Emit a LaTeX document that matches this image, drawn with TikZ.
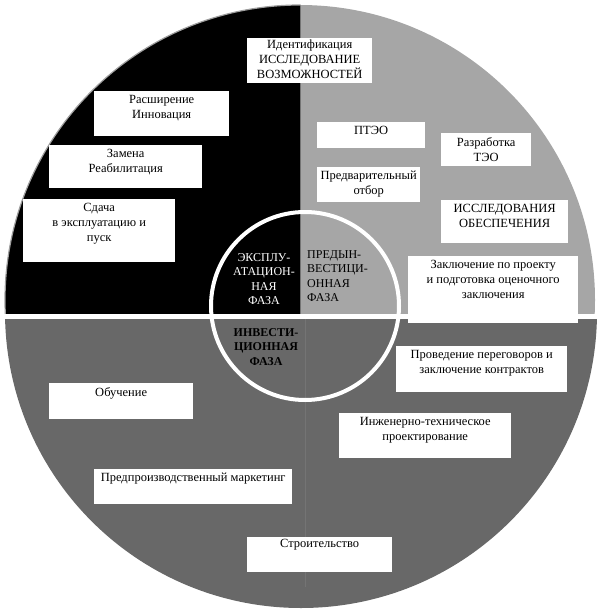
\documentclass[tikz,border=0pt]{standalone}
\usepackage{fontspec}
\setmainfont{Liberation Serif}
\definecolor{lightgrey}{HTML}{A6A6A6}
\definecolor{darkgrey}{HTML}{686868}
\definecolor{rimgrey}{HTML}{9E9E9E}
\definecolor{seamgrey}{HTML}{747474}
\begin{document}
\begin{tikzpicture}[x=1pt,y=-1pt,
	box/.style={fill=white, anchor=north west, inner sep=0pt},
	txt/.style={anchor=north, inner sep=4pt, align=center, font=\fontsize{12.5}{15}\selectfont},
	phase/.style={inner sep=0pt, font=\fontsize{12}{14.5}\selectfont}]
		\useasboundingbox (0,0) rectangle (601,610);
		% bottom half
		\begin{scope}
		\clip (0,319) rectangle (601,610);
		\fill[darkgrey] (301,312) circle (296);
		\end{scope}
		\draw[seamgrey,line width=0.8] (305,319) -- (305,587);
		% top left quarter
		\begin{scope}
		\clip (0,0) rectangle (300.5,313);
		\fill[black,draw=rimgrey,line width=1.2] (300,300) circle (295);
		\end{scope}
		% top right quarter
		\begin{scope}
		\clip (300.5,0) rectangle (601,313);
		\fill[lightgrey] (300,300) circle (295);
		\end{scope}
		% inner ring
		\draw[white,line width=4] (305,306) circle (94);
		% phases
		\node[phase,align=center,text=white] (expl) at (264,279) {ЭКСПЛУ-\\АТАЦИОН-\\НАЯ\\ФАЗА};
		\node[phase,align=left,anchor=west] (preinv) at (307,276) {ПРЕДЫН-\\ВЕСТИЦИ-\\ОННАЯ\\ФАЗА};
		\node[phase,align=center,font=\fontsize{12}{14.5}\selectfont\bfseries] (inv) at (266,347) {ИНВЕСТИ-\\ЦИОННАЯ\\ФАЗА};
		% exploitation boxes
		\node[box,minimum width=135,minimum height=45,label={[txt]north:{Расширение\\Инновация}}] (rasshir) at (94,91) {};
		\node[box,minimum width=153,minimum height=43,label={[txt]north:{Замена\\Реабилитация}}] (zamena) at (49,145) {};
		\node[box,minimum width=152,minimum height=63,label={[txt]north:{Сдача\\в эксплуатацию и\\пуск}}] (sdacha) at (23,199) {};
		% pre-investment boxes
		\node[box,minimum width=125,minimum height=45,label={[txt,inner sep=2pt]north:{Идентификация\\ИССЛЕДОВАНИЕ\\ВОЗМОЖНОСТЕЙ}}] (ident) at (247,38) {};
		\node[box,minimum width=108,minimum height=26,label={[txt]north:ПТЭО}] (pteo) at (317,122) {};
		\node[box,minimum width=90,minimum height=33,label={[txt]north:{Разработка\\ТЭО}}] (razrab) at (441,133) {};
		\node[box,minimum width=103,minimum height=35,label={[txt]north:{Предварительный\\отбор}}] (otbor) at (317,167) {};
		\node[box,minimum width=127,minimum height=43,label={[txt]north:{ИССЛЕДОВАНИЯ\\ОБЕСПЕЧЕНИЯ}}] (obespech) at (441,200) {};
		\node[box,minimum width=170,minimum height=67,label={[txt]north:{Заключение по проекту\\и подготовка оценочного\\заключения}}] (zakl) at (408,256) {};
		% investment boxes
		\node[box,minimum width=171,minimum height=46,label={[txt]north:{Проведение переговоров и\\заключение контрактов}}] (peregov) at (396,346) {};
		\node[box,minimum width=172,minimum height=45,label={[txt]north:{Инженерно-техническое\\проектирование}}] (inzh) at (339,413) {};
		\node[box,minimum width=144,minimum height=36,label={[txt]north:Обучение}] (obuch) at (49,383) {};
		\node[box,minimum width=198,minimum height=35,label={[txt]north:Предпроизводственный маркетинг}] (market) at (94,469) {};
		\node[box,minimum width=145,minimum height=35,label={[txt,inner sep=2pt]north:Строительство}] (stroit) at (247,537) {};
\end{tikzpicture}
\end{document}
